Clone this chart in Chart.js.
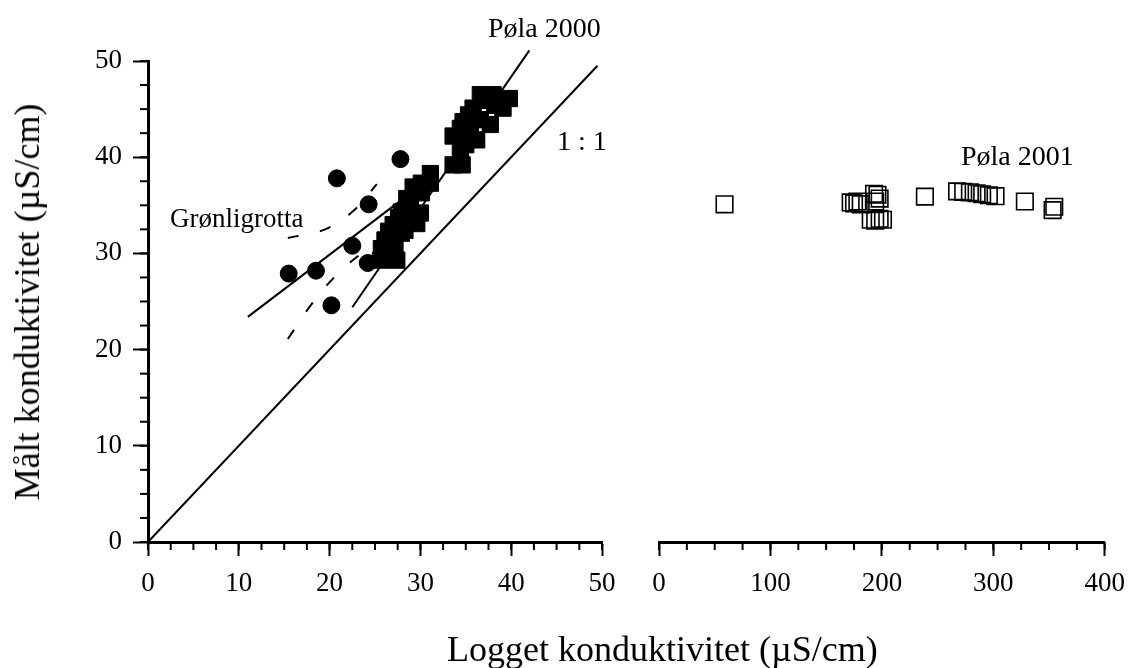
<!DOCTYPE html>
<html>
<head>
<meta charset="utf-8">
<script src="https://cdn.jsdelivr.net/npm/chart.js@4.4.1/dist/chart.umd.min.js"></script>
<style>
body { margin: 0; background: #fff; }
#wrap { position: relative; width: 1137px; height: 668px; overflow: hidden; font-family: "Liberation Serif", "Times New Roman", serif; color: #000; }
#c1 { position: absolute; left: 0; top: 0; }
#c2 { position: absolute; left: 630px; top: 0; }
.lbl { position: absolute; white-space: nowrap; line-height: 1; }
</style>
</head>
<body>
<div id="wrap">
  <canvas id="c1" width="630" height="668"></canvas>
  <canvas id="c2" width="507" height="668"></canvas>
  <div class="lbl" style="left:488px; top:13.5px; font-size:28px;">Pøla 2000</div>
  <div class="lbl" style="left:557px; top:126.5px; font-size:28px;">1 : 1</div>
  <div class="lbl" style="left:170px; top:205.4px; font-size:27px;">Grønligrotta</div>
  <div class="lbl" style="left:961px; top:141.5px; font-size:28px;">Pøla 2001</div>
  <div class="lbl" style="left:447px; top:631px; font-size:36px;">Logget konduktivitet (µS/cm)</div>
  <div class="lbl" style="left:27px; top:301.5px; font-size:36px; transform: translate(-50%, -50%) rotate(-90deg);">Målt konduktivitet (µS/cm)</div>
</div>
<script>
// Grønligrotta (filled circles)
var gronX = [15.5, 18.5, 20.8, 20.2, 24.3, 22.5, 24.2, 27.8];
var gronY = [27.9, 28.2, 37.8, 24.6, 35.1, 30.8, 29.0, 39.8];

// Pøla 2000 (filled squares)
var pola00X = [36.6, 38.0, 39.8, 39.1, 38.2, 37.4, 35.8, 35.3, 34.7, 34.4, 33.6, 33.6, 34.6, 37.7, 36.2, 35.5, 36.6, 34.4, 35.0,
               31.1, 30.1, 29.2, 31.1, 30.1, 28.5, 27.9, 30.0, 27.6, 29.6, 27.0, 26.5, 27.9, 26.1, 25.7, 25.6, 27.4, 28.9, 28.3, 27.2, 26.7, 28.9];
var pola00Y = [46.5, 46.5, 46.1, 45.1, 45.4, 45.9, 45.1, 44.4, 43.7, 43.0, 42.2, 39.2, 39.2, 43.4, 41.8, 42.8, 43.9, 40.8, 41.3,
               38.3, 37.3, 36.9, 37.3, 36.3, 35.7, 34.3, 34.2, 33.7, 33.1, 33.0, 32.3, 32.1, 31.4, 30.5, 29.3, 29.3, 35.1, 32.4, 30.9, 29.8, 33.5];

// Pøla 2001 (open squares)
var pola01X = [58.8, 172, 175, 178, 181, 193, 196, 198, 194, 190, 194, 198, 201, 238.6,
               267.5, 273, 279, 285, 290, 296, 302, 328.3, 354.7, 353.2];
var pola01Y = [35.1, 35.3, 35.2, 35.4, 35.1, 36.2, 36.1, 35.7, 35.4, 33.5, 33.4, 33.6, 33.5, 35.9,
               36.45, 36.4, 36.35, 36.25, 36.15, 36.05, 35.95, 35.4, 34.85, 34.5];

// lines
var oneToOneX = [0, 49.5];
var oneToOneY = [0, 49.5];
var gronFitX = [11, 32];
var gronFitY = [23.4, 38.5];
var gronUpperX = [15.4, 19.5, 22.6, 25.2];
var gronUpperY = [31.6, 32.5, 34.4, 37.2];
var gronLowerX = [15.4, 18.0, 20.5, 23.5, 25.0];
var gronLowerY = [21.1, 24.7, 27.5, 30.0, 30.8];
var pola00FitX = [22.5, 42];
var pola00FitY = [24.4, 51.1];

var serif = '"Liberation Serif", "Times New Roman", serif';

function pts(xs, ys) {
    return xs.map(function (x, i) { return { x: x, y: ys[i] }; });
}

function line(xs, ys, dash, noClip) {
    return {
        data: pts(xs, ys), showLine: true, pointRadius: 0, borderColor: '#000', borderWidth: 2,
        borderDash: dash || [], fill: false, tension: dash ? 0.4 : 0, clip: noClip ? false : undefined
    };
}

function xAxis(max, step) {
    return {
        type: 'linear', min: 0, max: max,
        afterFit: function (s) { s.height = 126; },
        border: { display: true, color: '#000', width: 3 },
        grid: { drawOnChartArea: false, drawTicks: true, tickLength: 14, tickWidth: 2, tickColor: '#000' },
        ticks: { stepSize: step, color: '#000', padding: 12, autoSkip: false, maxRotation: 0, font: { family: serif, size: 27 } }
    };
}

// small ticks between the labelled ones
var minorTicks = {
    id: 'minorTicks',
    afterDraw: function (chart, args, opts) {
        var ctx = chart.ctx;
        ctx.save();
        ctx.strokeStyle = '#000';
        ctx.lineWidth = 2;
        ['x', 'y'].forEach(function (id) {
            var s = chart.scales[id];
            var step = opts[id];
            if (!s || !step || s.options.display === false) return;
            for (var v = s.min; v <= s.max + 1e-9; v += step) {
                var p = s.getPixelForValue(v);
                ctx.beginPath();
                if (id === 'x') { ctx.moveTo(p, s.top); ctx.lineTo(p, s.top + 8); }
                else { ctx.moveTo(s.right, p); ctx.lineTo(s.right - 8, p); }
                ctx.stroke();
            }
        });
        ctx.restore();
    }
};

Chart.defaults.font.family = serif;

new Chart(document.getElementById('c1'), {
    type: 'scatter',
    data: {
        datasets: [
            { data: pts(gronX, gronY), pointStyle: 'circle', pointRadius: 8.5, pointBackgroundColor: '#000', pointBorderColor: '#000', pointBorderWidth: 1 },
            { data: pts(pola00X, pola00Y), pointStyle: 'rect', pointRadius: 11.5, pointBackgroundColor: '#000', pointBorderColor: '#000', pointBorderWidth: 1 },
            line(oneToOneX, oneToOneY),
            line(gronFitX, gronFitY),
            line(gronUpperX, gronUpperY, [11, 22]),
            line(gronLowerX, gronLowerY, [11, 22]),
            line(pola00FitX, pola00FitY, null, true)
        ]
    },
    options: {
        responsive: false,
        animation: false,
        events: [],
        layout: { padding: { left: 0, right: 28, top: 61, bottom: 0 } },
        plugins: { legend: { display: false }, tooltip: { enabled: false }, minorTicks: { x: 2.5, y: 2.5 } },
        scales: {
            x: xAxis(50, 10),
            y: {
                type: 'linear', min: 0, max: 50,
                afterFit: function (s) { s.width = 148; },
                border: { display: true, color: '#000', width: 3 },
                grid: { drawOnChartArea: false, drawTicks: true, tickLength: 15, tickWidth: 2, tickColor: '#000' },
                ticks: { stepSize: 10, color: '#000', padding: 11, font: { family: serif, size: 27 } }
            }
        }
    },
    plugins: [minorTicks]
});

new Chart(document.getElementById('c2'), {
    type: 'scatter',
    data: {
        datasets: [
            { data: pts(pola01X, pola01Y), pointStyle: 'rect', pointRadius: 11.7, pointBackgroundColor: 'rgba(0,0,0,0)', pointBorderColor: '#000', pointBorderWidth: 1.6 }
        ]
    },
    options: {
        responsive: false,
        animation: false,
        events: [],
        layout: { padding: { left: 29, right: 22, top: 61, bottom: 0 } },
        plugins: { legend: { display: false }, tooltip: { enabled: false }, minorTicks: { x: 25 } },
        scales: {
            x: xAxis(400, 100),
            y: { type: 'linear', min: 0, max: 50, display: false }
        }
    },
    plugins: [minorTicks]
});
</script>
</body>
</html>
